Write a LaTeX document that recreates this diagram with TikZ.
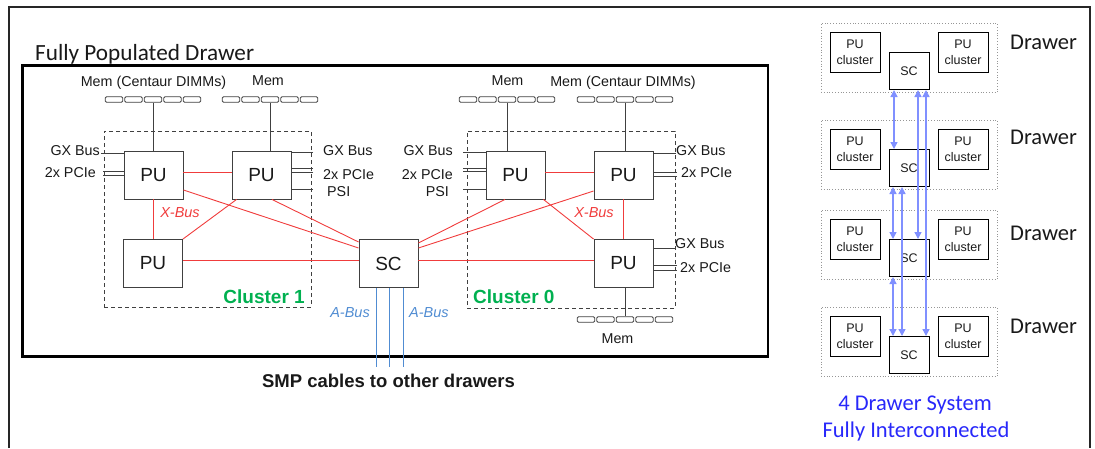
\documentclass[tikz,border=0pt]{standalone}
\usepackage{fontspec}
\setmainfont{Liberation Sans}
\newfontfamily\calib{Carlito}
\usetikzlibrary{arrows.meta}
\definecolor{xred}{RGB}{240,60,60}
\definecolor{abusc}{RGB}{80,140,210}
\definecolor{cgreen}{RGB}{0,176,80}
\definecolor{lnkc}{RGB}{128,144,255}
\definecolor{sysblue}{RGB}{40,40,250}
\definecolor{boxgray}{RGB}{64,64,64}
\definecolor{txt}{RGB}{25,25,25}
\definecolor{dotgray}{RGB}{150,150,150}
\begin{document}
\begin{tikzpicture}[x=1pt,y=-1pt,
  pubox/.style={draw=boxgray,line width=0.9pt,minimum width=59pt,minimum height=48pt,inner sep=0pt,font=\fontsize{19}{22}\selectfont,text=txt},
  dimm/.style={draw=boxgray,line width=0.8pt,minimum width=17.5pt,minimum height=5.5pt,inner sep=0pt,rounded corners=1.2pt},
  lbl/.style={font=\fontsize{14.3}{16}\selectfont,text=txt,inner sep=0pt},
  io/.style={draw=boxgray,line width=0.8pt},
  xbus/.style={draw=xred,line width=0.9pt},
  clusterbox/.style={draw=boxgray,dash pattern=on 4pt off 3pt,line width=0.8pt,inner sep=0pt},
  xlbl/.style={font=\itshape\fontsize{14.5}{16}\selectfont,text=xred,inner sep=0pt},
  clbl/.style={font=\bfseries\fontsize{19}{22}\selectfont,text=cgreen,inner sep=0pt},
  albl/.style={font=\itshape\fontsize{14.5}{16}\selectfont,text=abusc,inner sep=0pt},
  abusline/.style={draw=abusc,line width=1pt},
  drawerbox/.style={draw=dotgray,dotted,line width=0.8pt,minimum width=176pt,minimum height=69.5pt,inner sep=0pt},
  pucl/.style={draw=black,line width=1pt,minimum width=50pt,minimum height=39.5pt,inner sep=0pt,align=center,font=\fontsize{12.5}{15.5}\selectfont,text=txt},
  scsmall/.style={draw=black,line width=1pt,minimum width=40pt,minimum height=37pt,inner sep=0pt,font=\fontsize{12.5}{15}\selectfont,text=txt},
  calbl/.style={font=\calib\fontsize{22.5}{26}\selectfont,text=txt,inner sep=0pt},
  lnk/.style={draw=lnkc,line width=1.4pt,{Triangle[length=7pt,width=7pt]}-{Triangle[length=7pt,width=7pt]}}
]
\useasboundingbox (0,0) rectangle (1095,448);
% outer frame
\draw[line width=1.2pt,draw=black!85] (9,448) -- (9,7) -- (1090,7) -- (1090,448);

% title
\node[calbl,font=\calib\fontsize{23.2}{26}\selectfont,anchor=base west] (title) at (35,60) {Fully Populated Drawer};

% drawer
\node[draw=black,line width=2.4pt,minimum width=745.5pt,minimum height=291pt,inner sep=0pt] (drawer) at (395.25,211) {};

% clusters
\node[clusterbox,minimum width=207pt,minimum height=176pt] (cl1) at (207.5,219) {};
\node[clusterbox,minimum width=208pt,minimum height=177pt] (cl0) at (571,219.5) {};

% PUs and SC
\node[pubox] (pu1) at (153.5,175) {PU};
\node[pubox] (pu2) at (261.5,175) {PU};
\node[pubox] (pu3) at (153,263.5) {PU};
\node[pubox] (sc) at (388.5,263.5) {SC};
\node[pubox] (pu4) at (515.5,175) {PU};
\node[pubox] (pu5) at (623.5,175) {PU};
\node[pubox] (pu6) at (623.5,263.5) {PU};

% DIMM rows
\foreach \r/\cx/\cy in {ra/153/99.5, rb/270/99.5, rc/507/99.5, rd/625/99.5, re/625/319.5}{
  \foreach \i in {1,...,5}{
    \node[dimm] (\r-\i) at ({\cx+(\i-3)*19.5},\cy) {};
  }
}
\draw[io] (ra-3.south) -- (ra-3.south |- pu1.north);
\draw[io] (rb-3.south) -- (rb-3.south |- pu2.north);
\draw[io] (rc-3.south) -- (rc-3.south |- pu4.north);
\draw[io] (rd-3.south) -- (rd-3.south |- pu5.north);
\draw[io] (re-3.north) -- (re-3.north |- pu6.south);

% memory labels
\node[lbl,anchor=base] (m1) at (153.5,86) {Mem (Centaur DIMMs)};
\node[lbl,anchor=base] (m2) at (268,85) {Mem};
\node[lbl,anchor=base] (m3) at (507.5,85) {Mem};
\node[lbl,anchor=base] (m4) at (623,86) {Mem (Centaur DIMMs)};
\node[lbl,anchor=base] (m5) at (617.5,343) {Mem};

% IO lines
\coordinate (g1) at (101,153);
\coordinate (p1a) at (103,171);
\coordinate (p1b) at (103,175);
\draw[io] (g1) -- (g1 -| pu1.west);
\draw[io] (p1a) -- (p1a -| pu1.west);
\draw[io] (p1b) -- (p1b -| pu1.west);
\coordinate (g2) at (313,152);
\coordinate (p2a) at (313,168);
\coordinate (p2b) at (313,172);
\coordinate (s2) at (313,189);
\draw[io] (g2) -- (g2 -| pu2.east);
\draw[io] (p2a) -- (p2a -| pu2.east);
\draw[io] (p2b) -- (p2b -| pu2.east);
\draw[io] (s2) -- (s2 -| pu2.east);
\coordinate (g4) at (463,152);
\coordinate (p4a) at (463,168);
\coordinate (p4b) at (463,171);
\coordinate (s4) at (463,189);
\draw[io] (g4) -- (g4 -| pu4.west);
\draw[io] (p4a) -- (p4a -| pu4.west);
\draw[io] (p4b) -- (p4b -| pu4.west);
\draw[io] (s4) -- (s4 -| pu4.west);
\coordinate (g5) at (676,153);
\coordinate (p5a) at (677,172);
\coordinate (p5b) at (677,176);
\draw[io] (g5) -- (g5 -| pu5.east);
\draw[io] (p5a) -- (p5a -| pu5.east);
\draw[io] (p5b) -- (p5b -| pu5.east);
\coordinate (g6) at (675,248);
\coordinate (p6a) at (677,265);
\coordinate (p6b) at (677,270);
\draw[io] (g6) -- (g6 -| pu6.east);
\draw[io] (p6a) -- (p6a -| pu6.east);
\draw[io] (p6b) -- (p6b -| pu6.east);

% IO labels
\node[lbl,anchor=base east] (l1) at (100,155) {GX Bus};
\node[lbl,anchor=base east] (l2) at (96,177) {2x PCIe};
\node[lbl,anchor=base west] (l3) at (323,155) {GX Bus};
\node[lbl,anchor=base west] (l4) at (323,179) {2x PCIe};
\node[lbl,anchor=base west] (l5) at (327,196) {PSI};
\node[lbl,anchor=base east] (l6) at (453,155) {GX Bus};
\node[lbl,anchor=base east] (l7) at (453,179) {2x PCIe};
\node[lbl,anchor=base east] (l8) at (449,196) {PSI};
\node[lbl,anchor=base west] (l9) at (676,155) {GX Bus};
\node[lbl,anchor=base west] (l10) at (681,177) {2x PCIe};
\node[lbl,anchor=base west] (l11) at (675,248) {GX Bus};
\node[lbl,anchor=base west] (l12) at (680,272) {2x PCIe};

% X-Bus links
\draw[xbus] ([yshift=3pt]pu1.east) -- ([yshift=3pt]pu2.west);
\draw[xbus] (pu1.south) -- (pu1.south |- pu3.north);
\draw[xbus] ([xshift=5pt]pu2.south west) -- (pu3.north east);
\draw[xbus] ([yshift=-15pt]pu1.east) -- ([yshift=15.5pt]sc.west);
\draw[xbus] ([xshift=10.5pt]pu2.south) -- ([yshift=21.5pt]sc.west);
\draw[xbus] ([yshift=3.5pt]pu3.east) -- ([yshift=3.5pt]sc.west);
\draw[xbus] ([yshift=3pt]pu4.east) -- ([yshift=3pt]pu5.west);
\draw[xbus] (pu5.south) -- (pu6.north);
\draw[xbus] ([xshift=-2pt]pu4.south east) -- (pu6.north west);
\draw[xbus] ([xshift=-10.5pt]pu4.south) -- ([yshift=20.5pt]sc.east);
\draw[xbus] ([yshift=-16pt]pu5.west) -- ([yshift=15.5pt]sc.east);
\draw[xbus] ([yshift=3.5pt]sc.east) -- ([yshift=3.5pt]pu6.west);

\node[xlbl,anchor=base] (xb1) at (180,217) {X-Bus};
\node[xlbl,anchor=base] (xb0) at (594,217) {X-Bus};
\node[clbl,anchor=base east] (c1) at (305,303) {Cluster 1};
\node[clbl,anchor=base west] (c0) at (473,303) {Cluster 0};

% A-Bus
\coordinate (ab1) at (376,367);
\coordinate (ab2) at (389,367);
\coordinate (ab3) at (403,367);
\draw[abusline] (ab1 |- sc.south) -- (ab1);
\draw[abusline] (ab2 |- sc.south) -- (ab2);
\draw[abusline] (ab3 |- sc.south) -- (ab3);
\node[albl,anchor=base east] (a1) at (370,317) {A-Bus};
\node[albl,anchor=base west] (a2) at (409,317) {A-Bus};
\node[font=\bfseries\fontsize{18.5}{22}\selectfont,text=txt,inner sep=0pt,anchor=base] (smp) at (388.5,387) {SMP cables to other drawers};

% right side: 4 drawer system
\foreach \k/\t/\b in {1/23/49, 2/120/144, 3/210/240, 4/307/333}{
  \node[drawerbox] (dr\k) at (909,\t+34.75) {};
  \node[pucl] (pl\k) at (855,\t+29.25) {PU\\cluster};
  \node[pucl] (pr\k) at (963,\t+29.25) {PU\\cluster};
  \node[scsmall] (sc\k) at (909,\t+48) {SC};
  \node[calbl,anchor=base west] (dl\k) at (1010,\b) {Drawer};
}
\draw[lnk] ([xshift=-15pt]sc1.south) -- ([xshift=-15pt]sc2.north);
\draw[lnk] ([xshift=9pt]sc1.south) -- ([xshift=9pt]sc3.north);
\draw[lnk] ([xshift=17pt]sc1.south) -- ([xshift=17pt]sc4.north);
\draw[lnk] ([xshift=-16pt]sc2.south) -- ([xshift=-16pt]sc3.north);
\draw[lnk] ([xshift=-7pt]sc2.south) -- ([xshift=-7pt]sc4.north);
\draw[lnk] ([xshift=-16pt]sc3.south) -- ([xshift=-16pt]sc4.north);

\node[calbl,text=sysblue,anchor=base] (sys1) at (915,410) {4 Drawer System};
\node[calbl,text=sysblue,anchor=base] (sys2) at (916,437) {Fully Interconnected};
\end{tikzpicture}
\end{document}
